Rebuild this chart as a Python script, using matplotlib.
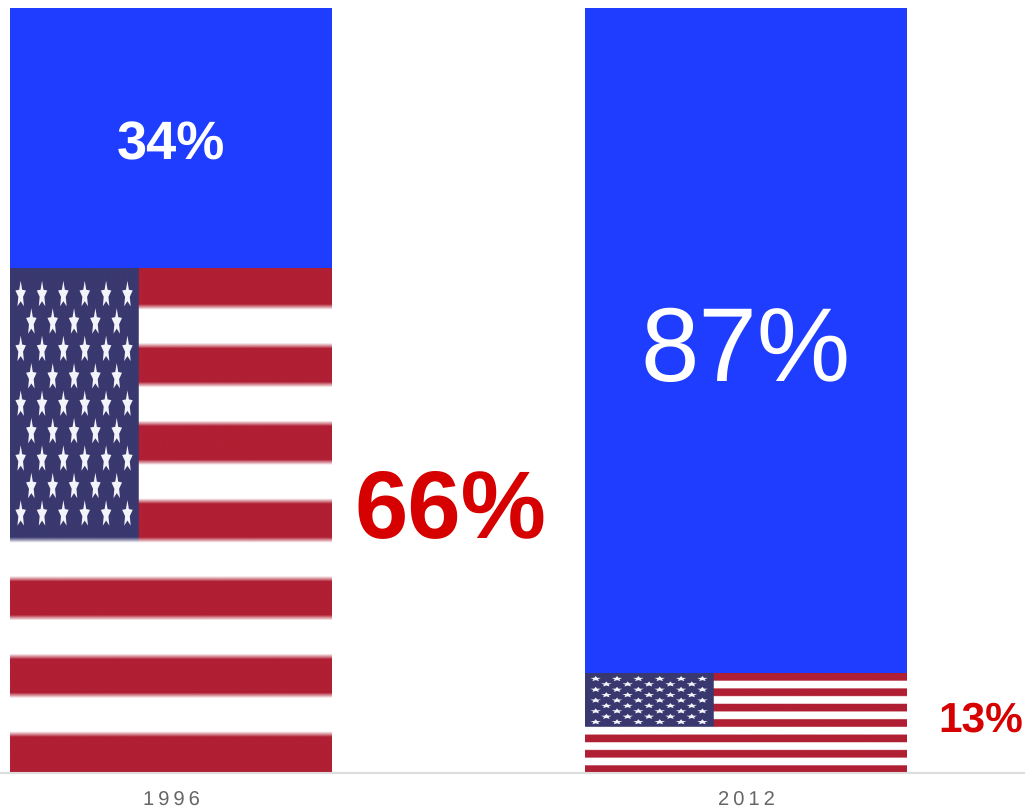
import numpy as np
import matplotlib
matplotlib.use("Agg")
import matplotlib.pyplot as plt
from matplotlib.collections import PolyCollection

plt.rcParams["font.family"] = ["Liberation Sans", "DejaVu Sans"]
plt.rcParams["text.hinting"] = "no_hinting"
plt.rcParams["text.kerning_factor"] = 6

# Share of each year's total, in percent
years = ["1996", "2012"]
flag_share = [66, 13]
blue_share = [34, 87]

BLUE = "#1f3dff"
RED = "#d60000"
STRIPE_RED = "#b01f33"
NAVY = "#39386f"
STAR = "#f3f3fa"
BAR_WIDTH = 322 / 575


def flag_raster(samples_per_stripe):
    """Stripes and canton as an RGB array, row 0 at the top of the flag."""
    red = np.array(matplotlib.colors.to_rgb(STRIPE_RED))
    navy = np.array(matplotlib.colors.to_rgb(NAVY))
    white = np.array([1.0, 1.0, 1.0])
    rows = 13 * samples_per_stripe
    cols = 400
    img = np.zeros((rows, cols, 3))
    for i in range(13):
        img[i * samples_per_stripe:(i + 1) * samples_per_stripe] = red if i % 2 == 0 else white
    img[:7 * samples_per_stripe, :160] = navy
    return img


def star_outline(cx, cy, rx, ry):
    angles = np.pi / 2 + np.arange(10) * np.pi / 5
    radius = np.where(np.arange(10) % 2 == 0, 1.0, 0.45)
    return np.column_stack([cx + rx * radius * np.cos(angles),
                            cy + ry * radius * np.sin(angles)])


def draw_flag(ax, xc, height, samples_per_stripe):
    """Fill a bar of the given height with a flag stretched to its size."""
    left = xc - BAR_WIDTH / 2
    ax.imshow(flag_raster(samples_per_stripe), extent=[left, left + BAR_WIDTH, 0, height],
              aspect="auto", interpolation="bilinear", zorder=2)
    stars = []
    for row in range(9):
        # Rows alternate between six and five stars
        count = 6 if row % 2 == 0 else 5
        start = 0.0332 if row % 2 == 0 else 0.0663
        fy = 1 - (0.053 + row * 0.0543)
        for col in range(count):
            fx = start + col * 0.0663
            stars.append(star_outline(left + fx * BAR_WIDTH, fy * height,
                                      0.0172 * BAR_WIDTH, 0.028 * height))
    ax.add_collection(PolyCollection(stars, facecolors=STAR, edgecolors="none", zorder=3))


fig = plt.figure(figsize=(10.25, 8.1), dpi=100)
ax = fig.add_axes([0, 37 / 810, 1, 765 / 810])

positions = np.arange(len(years))
ax.bar(positions, flag_share, width=BAR_WIDTH, color=STRIPE_RED, zorder=1)
ax.bar(positions, blue_share, width=BAR_WIDTH, bottom=flag_share, color=BLUE, zorder=1)

# The older flag comes from a coarser image, so its stripe edges are softer
for x, share, softness in zip(positions, flag_share, [7, 12]):
    draw_flag(ax, x, share, softness)

ax.set_xlim(-171 / 575, 854 / 575)
ax.set_ylim(0, 100)

# Percent labels: inside the blue bars and beside the flags
ax.text(0, flag_share[0] + blue_share[0] / 2 - 0.9, f"{blue_share[0]}%", color="white",
        fontsize=39, fontweight="bold", ha="center", va="center", zorder=4)
ax.text(1, flag_share[1] + blue_share[1] / 2 - 1.7, f"{blue_share[1]}%", color="white",
        fontsize=75.6, ha="center", va="center", zorder=4)
ax.text(279 / 575, flag_share[0] / 2 + 1.1, f"{flag_share[0]}%", color=RED,
        fontsize=69, fontweight="bold", ha="center", va="center", zorder=4)
ax.text(810 / 575, flag_share[1] / 2 + 0.4, f"{flag_share[1]}%", color=RED,
        fontsize=30.5, fontweight="bold", ha="center", va="center", zorder=4)

# Year labels with a little letter spacing
ax.set_xticks(positions)
ax.set_xticklabels(["\u2009".join(y) for y in years], fontsize=14.5, color="#666666")
ax.tick_params(axis="x", length=0, pad=13.5)
ax.set_yticks([])

for side in ("top", "left", "right"):
    ax.spines[side].set_visible(False)
ax.spines["bottom"].set_color("#dddddd")
ax.spines["bottom"].set_linewidth(1.5)

fig.savefig("out.png", dpi=100, facecolor="white")
